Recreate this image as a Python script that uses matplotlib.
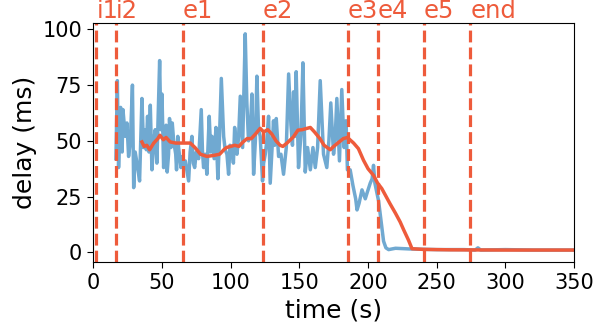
import matplotlib
matplotlib.use("Agg")
import matplotlib.pyplot as plt

# per-packet delay (blue)
t_raw = [16.5, 17.5, 18.4, 19.9, 21.0, 21.6, 23.3, 24.5, 25.7, 27, 28.5, 29.4, 30.5, 31.8,
         33.7, 34.5, 35.4, 36.6, 37.5, 38.6, 39.5, 40.5, 41.5, 42.7, 44, 45.1, 46.3, 48.3,
         49.2, 50, 51.2, 52, 53, 53.8, 54.8, 55.5, 56.5, 57.5, 58.5, 60, 60.6, 61.5, 62.1,
         63.8, 65, 66,
         67, 69.4, 70.5, 71.8, 72.8, 73.8, 75, 76.7, 78.6, 79.5, 80.3, 81.5, 82.7, 84.4,
         85.5, 86.4, 88, 89.3, 90.7, 91.8, 93.2, 94.9, 96, 97.3, 98.5, 99.5, 100.9, 102,
         102.9, 104.6, 105.8, 107, 108.7, 110.6, 111.8, 113, 114.3, 115.5, 116.7, 118,
         119.1, 120.3, 121.5, 123.2,
         124, 125.2, 126.3, 127.6, 128.8, 130, 131.2, 132, 133.2, 134.9, 136.6, 138.5,
         140.5, 142.2, 143.9, 145, 145.8, 146.8, 147.7, 149.4, 151.2, 152.6, 154.3, 156,
         158, 159.9, 161.6, 163.3, 165.2, 167.6, 170, 171.5, 172.9, 174.9, 176, 177.3,
         179.2, 180.9, 182.6, 184, 185,
         187, 189, 191, 192, 193.5, 195.6, 198, 199.5, 201.6, 203, 204, 205, 207.7, 209.5,
         211.3, 213, 215, 220, 230, 250, 270, 278, 280, 282, 300, 320, 350]
d_raw = [42, 77, 38, 65, 45, 64, 52, 58, 43, 50, 75, 29, 45, 40,
         32, 50, 69, 47, 55, 46, 61, 45, 66, 37, 50, 55, 40, 86,
         55, 71, 38, 50, 57, 36, 44, 60, 47, 58, 50, 44, 37, 52, 47,
         38, 43, 39,
         41, 32, 45, 52, 40, 38, 45, 42, 64, 45, 38, 44, 35, 61,
         45, 52, 42, 56, 33, 50, 78, 52, 46, 44, 35, 48, 47, 40,
         56, 44, 52, 70, 47, 98, 67, 50, 55, 71, 35, 50,
         79, 55, 52, 32,
         40, 44, 50, 61, 31, 45, 59, 48, 60, 43, 44, 35,
         47, 80, 57, 48, 72, 52, 81, 38, 53, 85, 36, 47,
         37, 47, 38, 47, 77, 44, 38, 50, 67, 44, 50, 69,
         41, 73, 47, 59, 37,
         37, 30, 24, 19, 22, 28, 24, 27, 31, 33, 39, 31, 23, 14,
         5, 2, 1.2, 1.8, 1.5, 1.2, 1.2, 1.0, 2.0, 1.0, 1.2, 1.0, 1.0]

# smoothed delay (red)
t_avg = [35.4, 37, 39, 41, 44, 47, 48.5, 51, 53, 56, 60, 65, 70.6, 74, 78, 82.7, 88, 92,
         95, 97, 103, 106, 109, 112, 115, 118, 121.5, 124, 127, 130, 133, 136, 138, 141,
         145.6, 149, 152, 158, 161, 165, 168, 172.5, 175, 178, 182, 185, 189.5, 193,
         196.7, 200, 204, 207, 210, 216, 220, 223.4, 226, 229.5, 232, 240, 260, 300, 350]
d_avg = [49.5, 47.5, 48, 46, 49, 51, 52.5, 50.5, 51.5, 49.5, 49, 49, 49, 47, 44, 43, 43.5, 44,
         46, 47, 48, 47.5, 49.5, 51, 51, 53, 55.6, 54, 55, 53, 50, 48, 47.5, 49,
         51.7, 54.8, 55, 56, 54, 51, 48, 46, 47.5, 49, 51, 51.5, 49, 46.5,
         41.3, 37.5, 34.5, 31, 28.6, 21.8, 17.5, 13.6, 10, 5.4, 1.6, 1.3, 1.1, 1.0, 1.0]

events = ["i1", "i2", "e1", "e2", "e3", "e4", "e5", "end"]
event_t = [2.2, 16.5, 65.3, 123.2, 185.3, 207.2, 240.4, 274.4]

red = "#ee5b3b"
blue = "#70a9d1"

fig = plt.figure(figsize=(5.98, 3.29), dpi=100)
ax = fig.add_axes([0.156, 0.2027, 0.804, 0.7283])

ax.plot(t_raw, d_raw, color=blue, lw=2.5)
ax.plot(t_avg, d_avg, color=red, lw=2.5)

for name, t in zip(events, event_t):
    ax.axvline(t, color=red, lw=2.3, ls="--")
    ax.text(t, 1.0, name, transform=ax.get_xaxis_transform(), color=red,
            fontsize=17.5, ha="left", va="bottom")

ax.set_xlim(0, 350)
ax.set_ylim(-4.5, 103)
ax.set_xticks([0, 50, 100, 150, 200, 250, 300, 350])
ax.set_yticks([0, 25, 50, 75, 100])
ax.tick_params(labelsize=15, length=4.5)
ax.set_xlabel("time (s)", fontsize=18)
ax.set_ylabel("delay (ms)", fontsize=18)

fig.savefig("out.png", dpi=100)
